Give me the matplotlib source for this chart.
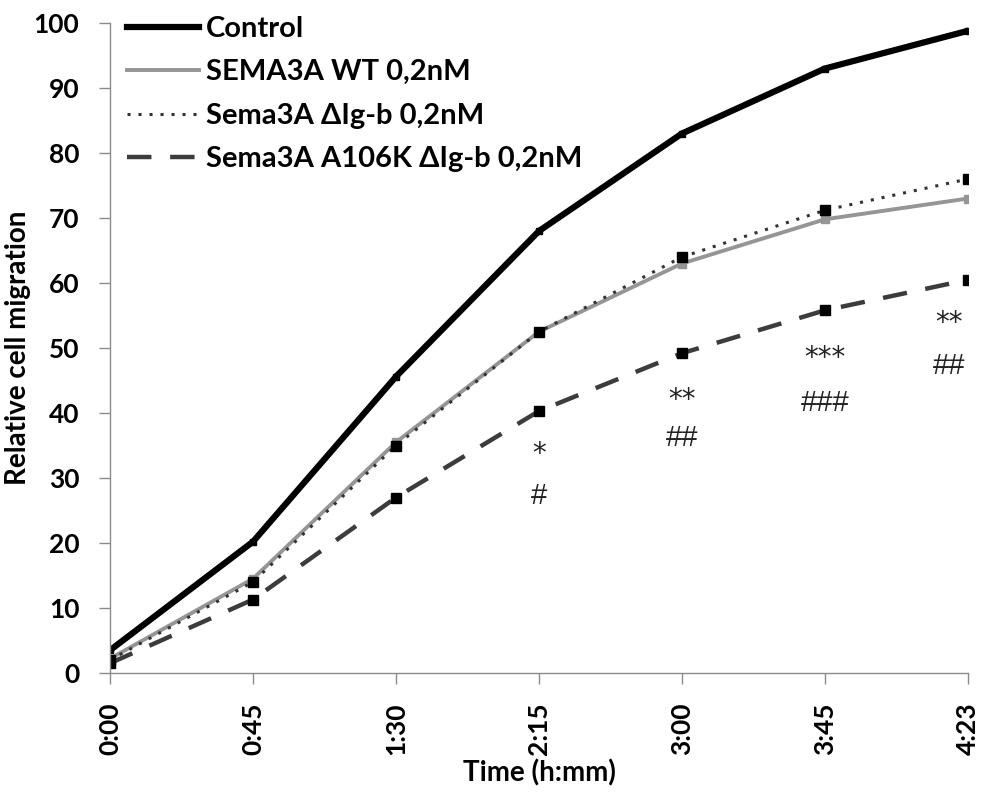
import matplotlib.pyplot as plt

plt.rcParams["font.family"] = ["Lato", "DejaVu Sans"]

# Time points (categorical) and measured series
TIME_LABELS = ["0:00", "0:45", "1:30", "2:15", "3:00", "3:45", "4:23"]
CONTROL = [3.5, 20.2, 45.6, 68.0, 83.0, 93.0, 98.8]
SEMA3A_WT = [2.2, 14.5, 35.5, 52.5, 63.0, 69.8, 73.0]
SEMA3A_DIGB = [2.0, 14.0, 35.0, 52.5, 64.0, 71.2, 76.0]
SEMA3A_A106K = [1.5, 11.3, 27.0, 40.3, 49.2, 55.8, 60.5]

SERIES_NAMES = [
    "Control",
    "SEMA3A WT 0,2nM",
    "Sema3A \u0394Ig-b 0,2nM",
    "Sema3A A106K \u0394Ig-b 0,2nM",
]

# Significance marks: (text, time index, y value)
STAR_LABELS = ["*", "**", "***", "**"]
HASH_LABELS = ["#", "##", "###", "##"]
MARK_X = [3, 4, 5, 5.87]
STAR_Y = [33.7, 42.0, 48.4, 53.9]
HASH_Y = [27.3, 36.1, 41.6, 47.2]


def main():
    fig = plt.figure(figsize=(9.89, 7.92), dpi=100)
    ax = fig.add_axes([110 / 989, 1 - 673 / 792, (968 - 110) / 989, (673 - 23) / 792])

    x = list(range(len(TIME_LABELS)))
    styles = [
        dict(data=CONTROL, color="black", lw=4.5, ls="-", mfc="black", ms=5),
        dict(data=SEMA3A_WT, color="#959595", lw=2.8, ls="-", mfc="#959595", ms=6),
        dict(data=SEMA3A_DIGB, color="#333333", lw=2.2, ls=(0, (1, 2.6)), mfc="black", ms=7.5),
        dict(data=SEMA3A_A106K, color="#3c3c3c", lw=3.2, ls=(0, (5.5, 4.2)), mfc="black", ms=7.5),
    ]
    for name, st in zip(SERIES_NAMES, styles):
        ax.plot(
            x,
            st["data"],
            color=st["color"],
            lw=st["lw"],
            ls=st["ls"],
            marker="s",
            ms=st["ms"],
            mfc=st["mfc"],
            mec=st["mfc"],
            label=name,
        )

    for txt, xi, yi in zip(STAR_LABELS, MARK_X, STAR_Y):
        ax.text(xi, yi, txt, ha="center", va="center", fontsize=20,
                family="DejaVu Sans", color="#222222")
    for txt, xi, yi in zip(HASH_LABELS, MARK_X, HASH_Y):
        ax.text(xi, yi, txt, ha="center", va="center", fontsize=21,
                family="Liberation Sans", color="#222222")

    ax.set_xlim(0, 6)
    ax.set_ylim(0, 100)
    ax.set_yticks(range(0, 101, 10))
    ax.set_xticks(x)
    ax.set_xticklabels(TIME_LABELS, rotation=90, fontsize=19, fontweight="bold")
    for lab in ax.get_yticklabels():
        lab.set_fontsize(19)
        lab.set_fontweight("bold")

    for side in ["top", "right"]:
        ax.spines[side].set_visible(False)
    for side in ["left", "bottom"]:
        ax.spines[side].set_color("#8a8a8a")
        ax.spines[side].set_linewidth(1.0)
    ax.tick_params(axis="both", color="#8a8a8a", length=8, width=1.0)
    ax.tick_params(axis="y", pad=14)
    ax.tick_params(axis="x", pad=13)

    ax.set_xlabel("Time (h:mm)", fontsize=20, fontweight="bold", labelpad=3)
    ax.set_ylabel("Relative cell migration", fontsize=20, fontweight="bold", labelpad=2)

    leg = ax.legend(
        loc="upper left",
        bbox_to_anchor=(0.02, 1.011),
        frameon=False,
        prop={"size": 21, "weight": "bold"},
        handlelength=2.45,
        handletextpad=0.25,
        labelspacing=0.6,
        borderaxespad=0.0,
        borderpad=0.0,
    )
    # legend shows line styles only, no markers
    for handle in leg.get_lines():
        handle.set_marker("")

    fig.savefig("out.png", dpi=100)
    plt.close(fig)


if __name__ == "__main__":
    main()
